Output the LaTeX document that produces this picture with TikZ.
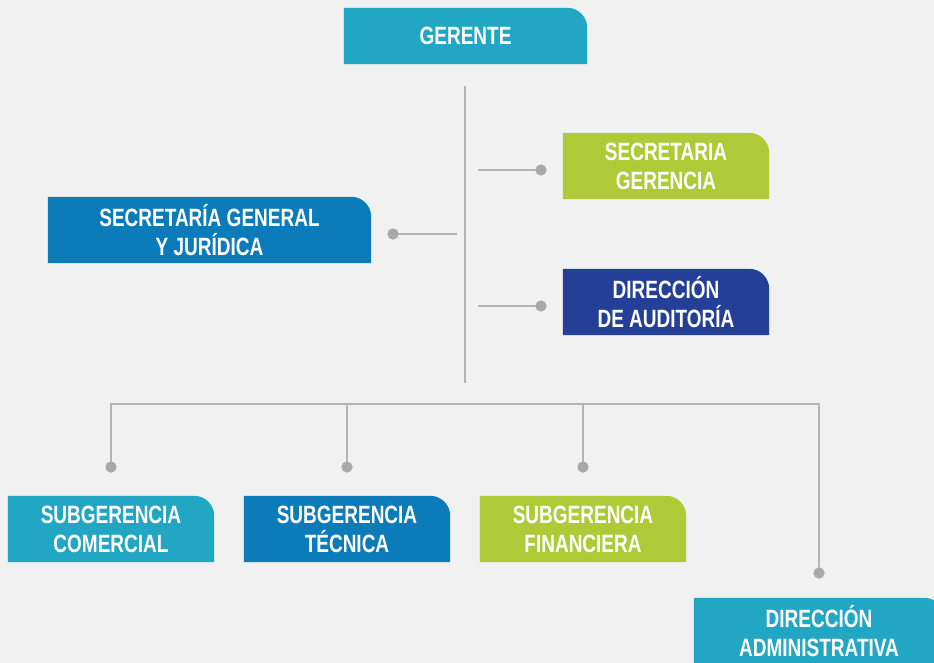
\documentclass[tikz,border=0pt]{standalone}
\usepackage{fontspec}
\newfontfamily\boxfont{Liberation Sans Bold}[FakeStretch=0.76]
\definecolor{bgc}{HTML}{F1F1F1}
\definecolor{cteal}{HTML}{21A7C3}
\definecolor{cblue}{HTML}{0B7CB9}
\definecolor{cgreen}{HTML}{AECB37}
\definecolor{cnavy}{HTML}{233F97}
\definecolor{linegray}{HTML}{B4B4B6}
\definecolor{dotgray}{HTML}{A9A9AB}
\pgfdeclarelayer{bglayer}
\pgfsetlayers{bglayer,main}
\newcommand\tabbox[2]{\fill[#2] (#1.south west) -- (#1.north west) -- ([xshift=-20pt]#1.north east) arc[start angle=90,end angle=0,radius=20pt] -- (#1.south east) -- cycle;}
\begin{document}
\begin{tikzpicture}[x=1pt,y=-1pt,
  box/.style={inner sep=0pt, text=white, font=\boxfont\fontsize{25}{29}\selectfont, align=center, minimum width=206pt, minimum height=66pt},
  conn/.style={draw=linegray, line width=1.5pt},
  dot/.style={circle, fill=dotgray, inner sep=0pt, minimum size=11pt}]
\useasboundingbox (0,0) rectangle (934,663);
\clip (0,0) rectangle (934,663);
% boxes
\node[box, minimum width=243pt, minimum height=56pt] (ger) at (465.5,36) {GERENTE};
\node[box, minimum width=323pt] (sgj) at (209.5,230) {SECRETARÍA GENERAL\\Y JURÍDICA};
\node[box] (sg) at (666,166) {SECRETARIA\\GERENCIA};
\node[box] (da) at (666,302) {DIRECCIÓN\\DE AUDITORÍA};
\node[box] (sc) at (111,529) {SUBGERENCIA\\COMERCIAL};
\node[box] (st) at (347,529) {SUBGERENCIA\\TÉCNICA};
\node[box] (sf) at (583,529) {SUBGERENCIA\\FINANCIERA};
\node[box, minimum width=250pt] (dad) at (819,631) {DIRECCIÓN\\ADMINISTRATIVA};
\begin{pgfonlayer}{bglayer}
\fill[bgc] (0,0) rectangle (934,663);
\tabbox{ger}{cteal}
\tabbox{sgj}{cblue}
\tabbox{sg}{cgreen}
\tabbox{da}{cnavy}
\tabbox{sc}{cteal}
\tabbox{st}{cblue}
\tabbox{sf}{cgreen}
\tabbox{dad}{cteal}
\end{pgfonlayer}
% connectors
\coordinate (vt) at (465,86);
\coordinate (vb) at (465,383);
\draw[conn] (vt) -- (vb);
\node[dot] (d1) at (393,234) {};
\node[dot] (d2) at (541,170) {};
\node[dot] (d3) at (541,306) {};
\node[dot] (d4) at (111,467) {};
\node[dot] (d5) at (347,467) {};
\node[dot] (d6) at (583,467) {};
\node[dot] (d7) at (819,573) {};
\coordinate (c1) at (457,234);
\coordinate (c2) at (478,170);
\coordinate (c3) at (478,306);
\draw[conn] (c1) -- (d1.center);
\draw[conn] (c2) -- (d2.center);
\draw[conn] (c3) -- (d3.center);
\coordinate (hl) at (111,404);
\coordinate (hr) at (819,404);
\draw[conn] (d4.center) -- (hl) -- (hr) -- (d7.center);
\draw[conn] (d5.center) -- (d5 |- hl);
\draw[conn] (d6.center) -- (d6 |- hl);
\fill[dotgray] (d1) circle[radius=5.5pt] (d2) circle[radius=5.5pt] (d3) circle[radius=5.5pt] (d4) circle[radius=5.5pt] (d5) circle[radius=5.5pt] (d6) circle[radius=5.5pt] (d7) circle[radius=5.5pt];
\end{tikzpicture}
\end{document}
